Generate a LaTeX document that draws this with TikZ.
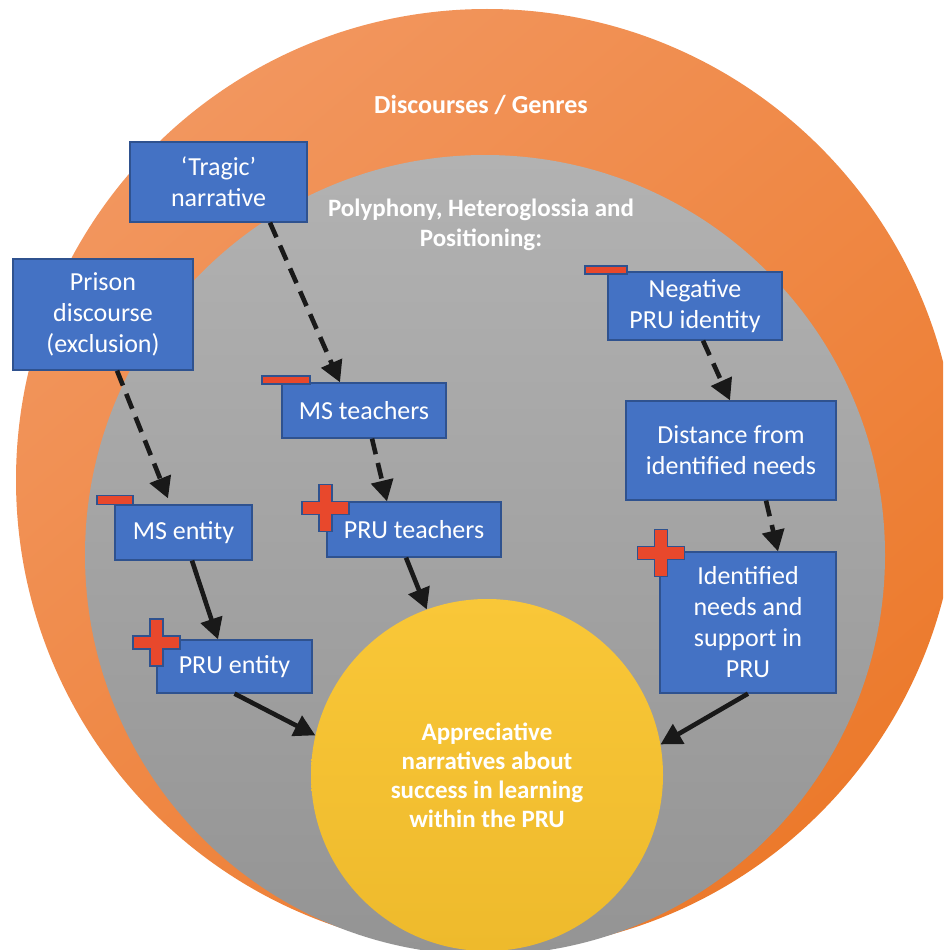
\documentclass[tikz,border=0pt]{standalone}
\usepackage{fontspec}
\setmainfont{Carlito}
\usetikzlibrary{arrows.meta}

\definecolor{discoursetop}{RGB}{242,150,94}
\definecolor{discoursebot}{RGB}{236,122,44}
\definecolor{polytop}{RGB}{178,178,178}
\definecolor{polybot}{RGB}{148,148,148}
\definecolor{goaltop}{RGB}{249,199,56}
\definecolor{goalbot}{RGB}{238,186,44}
\definecolor{boxblue}{RGB}{68,114,196}
\definecolor{boxedge}{RGB}{47,82,143}
\definecolor{signred}{RGB}{232,72,44}

\tikzset{
	box/.style={draw=boxedge,fill=boxblue,line width=1.3pt,text=white,align=center,inner sep=2pt,font=\fontsize{26}{31}\selectfont},
	minusmark/.style={draw=boxedge,fill=signred,line width=1.2pt,minimum height=8pt,inner sep=0pt},
	plusline/.style={draw=boxedge,fill=signred,line width=1.2pt},
	title/.style={text=white,align=center,font=\bfseries\fontsize{25}{30}\selectfont},
	arr/.style={line width=4.6pt,black!90,-{Triangle[length=21pt,width=22pt]}},
	dasharr/.style={arr,dash pattern=on 16pt off 9pt}
}

% plus sign centred at #1
\newcommand{\plusmark}[1]{\draw[plusline] (#1) ++(-6.5,-23.5) -- ++(13,0) -- ++(0,17) -- ++(17,0) -- ++(0,13) -- ++(-17,0) -- ++(0,17) -- ++(-13,0) -- ++(0,-17) -- ++(-17,0) -- ++(0,-13) -- ++(17,0) -- cycle;}

\begin{document}
\begin{tikzpicture}[x=1pt,y=-1pt]
	\useasboundingbox (0,0) rectangle (943,950);
	\clip (0,0) rectangle (943,950);
	\fill[white] (0,0) rectangle (943,950);
	% circles
	\node (discourse) at (487,480) [circle,top color=discoursetop,bottom color=discoursebot,shading angle=40,minimum width=942pt]{};
	\node (poly) at (485,555) [circle,top color=polytop,bottom color=polybot,minimum width=800pt]{};
	\node (goal) at (487,775) [circle,top color=goaltop,bottom color=goalbot,minimum width=352pt,title,font=\bfseries\fontsize{25}{29}\selectfont]{Appreciative\\narratives about\\success in learning\\within the PRU};
	\node (discoursetitle) at (481,105) [title,font=\bfseries\fontsize{26}{30}\selectfont]{Discourses / Genres};
	\node (polytitle) at (481,225) [title]{Polyphony, Heteroglossia and\\Positioning:};
	% boxes
	\node (tragic) at (218.5,182) [box,minimum width=177pt,minimum height=80pt]{`Tragic'\\narrative};
	\node (prison) at (103,314.5) [box,minimum width=180pt,minimum height=111pt]{Prison\\discourse\\(exclusion)};
	\node (negpru) at (695,306) [box,minimum width=174pt,minimum height=68pt]{Negative\\PRU identity};
	\node (msteach) at (364,410.5) [box,minimum width=164pt,minimum height=55pt]{MS teachers};
	\node (distance) at (731,450.5) [box,minimum width=210pt,minimum height=99pt]{Distance from\\identified needs};
	\node (msent) at (183.5,532.5) [box,minimum width=137pt,minimum height=55pt]{MS entity};
	\node (pruteach) at (414,529.5) [box,minimum width=174pt,minimum height=55pt]{PRU teachers};
	\node (idneeds) at (748,622.5) [box,minimum width=176pt,minimum height=141pt]{Identified\\needs and\\support in\\PRU};
	\node (pruent) at (234.5,666.5) [box,minimum width=155pt,minimum height=53pt]{PRU entity};
	% signs
	\node (negprusign) at (606,270) [minusmark,minimum width=42pt]{};
	\node (msteachsign) at (286,380) [minusmark,minimum width=48pt]{};
	\node (msentsign) at (115,500) [minusmark,minimum width=36pt,minimum height=9pt]{};
	\plusmark{325.5,508}
	\plusmark{661,553}
	\plusmark{156.5,642.5}
	% arrows
	\draw[dasharr] ([xshift=51.5pt]tragic.south) -- ([xshift=-24pt]msteach.north);
	\draw[dasharr] ([xshift=14pt]prison.south) -- ([xshift=-15.5pt,yshift=6pt]msent.north);
	\draw[dasharr] ([xshift=8pt]msteach.south) -- ([xshift=-27pt]pruteach.north);
	\draw[dasharr] ([xshift=8pt]negpru.south) -- ([xshift=-1pt]distance.north);
	\draw[dasharr] ([xshift=35pt]distance.south) -- ([xshift=30pt]idneeds.north);
	\draw[arr] ([xshift=8.5pt]msent.south) -- ([xshift=-16.5pt]pruent.north);
	\draw[arr] ([xshift=-8pt]pruteach.south) -- (goal.110);
	\draw[arr] (pruent.south) -- (goal.167);
	\draw[arr] (idneeds.south) -- (goal.10);
\end{tikzpicture}
\end{document}
